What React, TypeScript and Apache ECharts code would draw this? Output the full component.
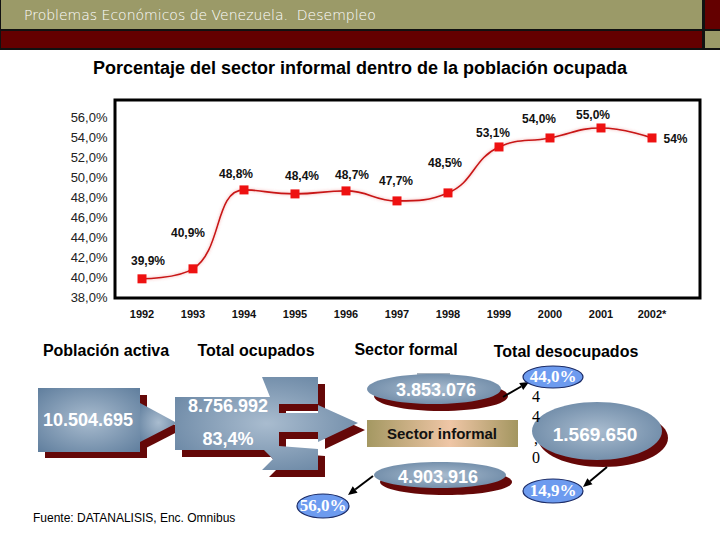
import React, { useEffect, useRef } from 'react';
import * as echarts from 'echarts';

// ---- Data ----
const years = ['1992', '1993', '1994', '1995', '1996', '1997', '1998', '1999', '2000', '2001', '2002*'];
const informalShare = [39.9, 40.9, 48.8, 48.4, 48.7, 47.7, 48.5, 53.1, 54.0, 55.0, 54.0];
const pointLabels = ['39,9%', '40,9%', '48,8%', '48,4%', '48,7%', '47,7%', '48,5%', '53,1%', '54,0%', '55,0%', '54%'];
const yMin = 38;
const yMax = 57.8;
const yStep = 2;

const flowHeaders = ['Población activa', 'Total ocupados', 'Sector formal', 'Total desocupados'];
const poblacionActiva = '10.504.695';
const totalOcupados = '8.756.992';
const ocupadosPct = '83,4%';
const sectorFormal = '3.853.076';
const sectorInformalLabel = 'Sector informal';
const sectorInformal = '4.903.916';
const totalDesocupados = '1.569.650';
const pctFormal = '44,0%';
const pctInformal = '56,0%';
const pctDesocupados = '14,9%';
const strayChars = ['4', '4', ',', '0'];
const headerTitle = 'Problemas Económicos de Venezuela.  Desempleo';
const chartTitle = 'Porcentaje del sector informal dentro de la población ocupada';
const sourceNote = 'Fuente: DATANALISIS, Enc. Omnibus';

// label placement tweaks (styling only)
const labelOffsets: number[][] = [
  [6, -2], [-5, -20], [-8, 0], [7, -2], [6, 0], [-1, -4], [-3, -14], [-6, 2], [-11, -3], [-8, 3], [2, 1],
];

const SHADOW = '#650808';
const blueFill = () =>
  new echarts.graphic.RadialGradient(0.5, 0.5, 0.75, [
    { offset: 0, color: '#a9bccf' },
    { offset: 1, color: '#5b7a9a' },
  ]);
const lightBlue = '#6d9bef';
const sansB = 'bold 18px "Liberation Sans", Arial, sans-serif';

function arrow(x1: number, y1: number, x2: number, y2: number) {
  const ang = Math.atan2(y2 - y1, x2 - x1);
  const L = 9, W = 4;
  const bx = x2 - L * Math.cos(ang), by = y2 - L * Math.sin(ang);
  const px = -Math.sin(ang) * W, py = Math.cos(ang) * W;
  return [
    { type: 'line', shape: { x1, y1, x2: bx, y2: by }, style: { stroke: '#000', lineWidth: 2 } },
    {
      type: 'polygon',
      shape: { points: [[x2, y2], [bx + px, by + py], [bx - px, by - py]] },
      style: { fill: '#000' },
    },
  ];
}

function txt(x: number, y: number, text: string, font: string, fill = '#fff', align = 'center') {
  return { type: 'text', x, y, style: { text, font, fill, align, verticalAlign: 'middle' } };
}

function blueEllipse(cx: number, cy: number, rx: number, ry: number, dx: number, dy: number) {
  return [
    { type: 'ellipse', shape: { cx: cx + dx, cy: cy + dy, rx, ry }, style: { fill: SHADOW } },
    { type: 'ellipse', shape: { cx, cy, rx, ry }, style: { fill: blueFill() } },
  ];
}

function pctEllipse(cx: number, cy: number, rx: number, ry: number, text: string) {
  return [
    { type: 'ellipse', shape: { cx, cy, rx, ry }, style: { fill: lightBlue, stroke: '#1b2b66', lineWidth: 1.2 } },
    txt(cx, cy - 1, text, 'bold 17px "Liberation Serif", "Times New Roman", serif'),
  ];
}

const box2Points = [
  [175, 397], [270, 397], [262, 377], [318, 377], [318, 404], [279, 404], [279, 413], [318, 413],
  [318, 405], [358, 423], [318, 442], [318, 432], [279, 432], [279, 446], [318, 449], [318, 470],
  [262, 470], [273, 459], [264, 450], [175, 450],
];

export default function App() {
  const ref = useRef<HTMLDivElement>(null);
  useEffect(() => {
    if (!ref.current) return;
    const chart = echarts.init(ref.current, null, { renderer: 'svg' });

    const headerFont = 'bold 16px "Liberation Sans", Arial, sans-serif';
    const graphic: any[] = [
      // header bands
      { type: 'rect', shape: { x: 0, y: 0, width: 720, height: 50 }, style: { fill: '#111' } },
      { type: 'rect', shape: { x: 1, y: 0, width: 701, height: 29 }, style: { fill: '#9b9a68' } },
      { type: 'rect', shape: { x: 1, y: 31, width: 701, height: 17 }, style: { fill: '#640000' } },
      { type: 'rect', shape: { x: 705, y: 0, width: 15, height: 29 }, style: { fill: '#640000' } },
      { type: 'rect', shape: { x: 705, y: 31, width: 15, height: 17 }, style: { fill: '#9b9a68' } },
      txt(24, 15, headerTitle, '200 14px "DejaVu Sans", sans-serif', '#fff', 'left'),
      // chart title
      txt(360, 68, chartTitle, 'bold 18px "Liberation Sans", Arial, sans-serif', '#000'),
      // chart frame
      {
        type: 'rect', shape: { x: 115, y: 100, width: 585, height: 198 },
        style: { fill: 'none', stroke: '#000', lineWidth: 3 }, z: 10,
      },
      // flow headers
      txt(106, 350, flowHeaders[0], headerFont, '#000'),
      txt(256, 350, flowHeaders[1], headerFont, '#000'),
      txt(406, 349, flowHeaders[2], headerFont, '#000'),
      txt(566, 351, flowHeaders[3], headerFont, '#000'),
      // box 1
      { type: 'rect', shape: { x: 45, y: 395, width: 102, height: 63 }, style: { fill: SHADOW } },
      { type: 'rect', shape: { x: 38, y: 388, width: 102, height: 64 }, style: { fill: blueFill() } },
      txt(88, 420, poblacionActiva, sansB),
      // arrow 1
      { type: 'polygon', shape: { points: [[146, 410], [183, 429], [146, 448]] }, style: { fill: SHADOW } },
      { type: 'polygon', shape: { points: [[140, 403], [177, 423], [140, 442]] }, style: { fill: blueFill() } },
      // box 2
      { type: 'polygon', shape: { points: box2Points.map((p) => [p[0] + 7, p[1] + 7]) }, style: { fill: SHADOW } },
      { type: 'polygon', shape: { points: box2Points }, style: { fill: blueFill() } },
      txt(228, 406, totalOcupados, sansB),
      txt(228, 439, ocupadosPct, sansB),
      // sector formal ellipse
      { type: 'line', shape: { x1: 417, y1: 374, x2: 450, y2: 374 }, style: { stroke: '#8a97a6', lineWidth: 1.5 } },
      ...blueEllipse(434, 389, 67, 15, 7, 7),
      txt(436, 390, sectorFormal, sansB),
      // sector informal rect
      {
        type: 'rect', shape: { x: 367, y: 420, width: 151, height: 27 },
        style: {
          fill: new echarts.graphic.LinearGradient(0, 0, 1, 0, [
            { offset: 0, color: '#a49862' },
            { offset: 0.55, color: '#efc6a6' },
            { offset: 1, color: '#a39660' },
          ]),
        },
      },
      txt(442, 433, sectorInformalLabel, 'bold 15px "Liberation Sans", Arial, sans-serif', '#111'),
      // sector informal ellipse
      ...blueEllipse(440, 475, 66, 13, 6, 7),
      txt(438, 477, sectorInformal, sansB),
      // desocupados ellipse
      ...blueEllipse(597, 431, 65, 29, 6, 7),
      txt(595, 434, totalDesocupados, 'bold 19px "Liberation Sans", Arial, sans-serif'),
      // stray chars
      ...strayChars.map((c, i) =>
        txt(536, [396, 416, 438, 457][i], c, '16px "Liberation Serif", "Times New Roman", serif', '#000')
      ),
      // arrows
      ...arrow(503, 397, 529, 382),
      ...arrow(607, 467, 583, 487),
      ...arrow(373, 476, 348, 495),
      // pct ellipses
      ...pctEllipse(553, 377, 30, 11, pctFormal),
      ...pctEllipse(553, 491, 30, 12, pctDesocupados),
      ...pctEllipse(323, 506, 26, 12, pctInformal),
      // source
      txt(33, 518, sourceNote, '12px "Liberation Sans", Arial, sans-serif', '#000', 'left'),
    ];

    chart.setOption({
      animation: false,
      backgroundColor: '#fff',
      grid: { left: 116.5, width: 561, top: 100, height: 197.8, containLabel: false },
      xAxis: {
        type: 'category',
        data: years,
        boundaryGap: true,
        axisLine: { show: false },
        axisTick: { show: false },
        axisLabel: {
          margin: 11,
          color: '#111',
          fontSize: 11,
          fontWeight: 'bold',
          fontFamily: '"Liberation Sans", Arial, sans-serif',
        },
      },
      yAxis: {
        type: 'value',
        min: yMin,
        max: yMax,
        interval: yStep,
        splitLine: { show: false },
        axisLine: { show: false },
        axisTick: { show: false },
        axisLabel: {
          margin: 9,
          showMaxLabel: false,
          color: '#222',
          fontSize: 13,
          fontFamily: '"Liberation Sans", Arial, sans-serif',
          formatter: (v: number) => v.toFixed(1).replace('.', ',') + '%',
        },
      },
      series: [
        {
          type: 'line',
          smooth: 0.45,
          data: informalShare.map((v, i) => ({
            value: v,
            label: {
              show: true,
              position: i === informalShare.length - 1 ? 'right' : 'top',
              offset: labelOffsets[i],
              formatter: () => pointLabels[i],
            },
          })),
          symbol: 'rect',
          symbolSize: 9,
          itemStyle: { color: '#ee1111' },
          lineStyle: { color: '#c81414', width: 1.6, shadowColor: 'rgba(230,80,80,0.5)', shadowBlur: 3 },
          label: {
            color: '#111',
            fontSize: 12,
            fontWeight: 'bold',
            fontFamily: '"Liberation Sans", Arial, sans-serif',
          },
        },
      ],
      graphic,
    });
    return () => chart.dispose();
  }, []);

  return (
    <div
      ref={ref}
      style={{ position: 'absolute', left: 0, top: 0, width: 720, height: 540, background: '#fff' }}
    />
  );
}
